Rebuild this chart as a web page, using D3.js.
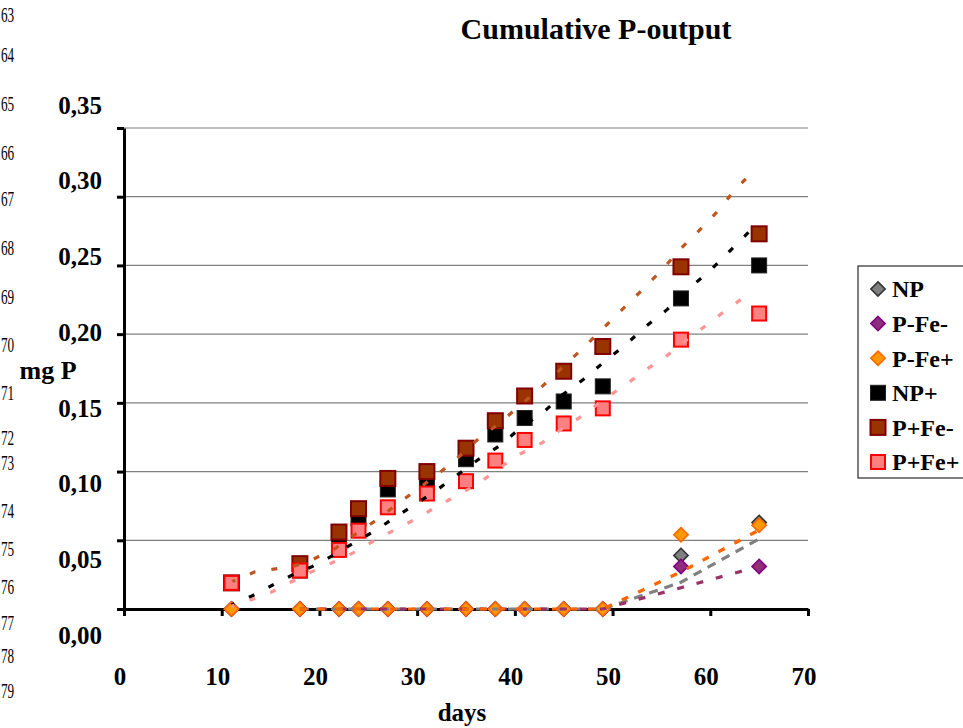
<!DOCTYPE html>
<html>
<head>
<meta charset="utf-8">
<script src="https://cdn.jsdelivr.net/npm/d3@7"></script>
<style>
  html, body { margin: 0; padding: 0; background: #fff; overflow: hidden; }
  svg { display: block; }
  svg text { font-family: "Liberation Serif", "Times New Roman", Times, serif; }
</style>
</head>
<body>
<svg id="chart" width="963" height="728" font-family="Liberation Serif, Times New Roman, serif"></svg>
<script>
// Sampling days
const days = [11, 18, 22, 24, 27, 31, 35, 38, 41, 45, 49, 57, 65];

// Cumulative P output (mg P) per treatment
const npValues        = [0, 0, 0, 0, 0, 0, 0, 0, 0, 0, 0, 0.039, 0.063];
const pFeMinusValues  = [0, 0, 0, 0, 0, 0, 0, 0, 0, 0, 0, 0.031, 0.031];
const pFePlusValues   = [0, 0, 0, 0, 0, 0, 0, 0, 0, 0, 0, 0.054, 0.061];
const npPlusValues    = [0.019, 0.028, 0.047, 0.066, 0.087, 0.092, 0.109, 0.127, 0.139, 0.151, 0.162, 0.226, 0.250];
const pPlusFeMinusVal = [0.019, 0.033, 0.056, 0.073, 0.095, 0.100, 0.117, 0.137, 0.155, 0.173, 0.191, 0.249, 0.273];
const pPlusFePlusVal  = [0.019, 0.028, 0.043, 0.057, 0.074, 0.084, 0.093, 0.108, 0.123, 0.135, 0.146, 0.196, 0.215];

// Fitted trend curves for the "+" treatments
const trendNpPlusDays = [11, 13.1, 15.1, 17.3, 19.3, 21.4, 23.5, 25.7, 27.8, 30, 32.1, 34.2, 36.3, 38.5, 40.6, 42.9, 44.9, 47, 49, 51.3, 53.3, 55.6, 57.6, 59.8, 61.8, 63.9];
const trendNpPlusVals = [0.003, 0.0095, 0.017, 0.025, 0.031, 0.039, 0.048, 0.057, 0.067, 0.077, 0.087, 0.098, 0.109, 0.119, 0.132, 0.143, 0.156, 0.167, 0.179, 0.192, 0.205, 0.218, 0.232, 0.245, 0.259, 0.274];
const trendPFeMinusDays = [11.1, 13.4, 15.3, 17.3, 19.3, 21.6, 23.6, 25.9, 27.9, 30, 32.1, 34.3, 36.3, 38.4, 40.5, 42.8, 44.9, 47, 49, 51, 53, 55.1, 56.8, 58.8, 60.7, 62.4, 64.3];
const trendPFeMinusVals = [0.020, 0.027, 0.029, 0.031, 0.036, 0.044, 0.054, 0.065, 0.076, 0.087, 0.098, 0.111, 0.124, 0.135, 0.148, 0.162, 0.176, 0.190, 0.204, 0.218, 0.232, 0.247, 0.261, 0.275, 0.289, 0.304, 0.318];
const trendPFePlusDays = [11, 13.1, 15, 17.2, 19.2, 21.4, 23.5, 25.7, 27.8, 30, 32.1, 34.2, 36.4, 38.5, 40.6, 42.8, 44.8, 47, 49, 51.3, 53.4, 55.5, 57.6, 59.7, 61.7, 63.9];
const trendPFePlusVals = [0.002, 0.007, 0.012, 0.020, 0.027, 0.034, 0.041, 0.050, 0.058, 0.066, 0.075, 0.083, 0.092, 0.103, 0.113, 0.121, 0.131, 0.141, 0.152, 0.163, 0.174, 0.184, 0.196, 0.207, 0.218, 0.229];

// Axis ticks and labels
const yTicks = [0, 0.05, 0.10, 0.15, 0.20, 0.25, 0.30, 0.35];
const yTickLabels = ["0,00", "0,05", "0,10", "0,15", "0,20", "0,25", "0,30", "0,35"];
const xTicks = [0, 10, 20, 30, 40, 50, 60, 70];

// Page line numbers in the left margin
const lineNumbers = [63, 64, 65, 66, 67, 68, 69, 70, 71, 72, 73, 74, 75, 76, 77, 78, 79];
const lineNumberY = [14, 54, 103, 152, 198, 247, 296, 344, 392, 437, 462, 510, 548, 586, 622, 655, 690];

const series = [
  { name: "NP",     values: npValues,        shape: "diamond", fill: "#808080", stroke: "#333333", trend: "ma", trendColor: "#808080", dash: "9,7" },
  { name: "P-Fe-",  values: pFeMinusValues,  shape: "diamond", fill: "#8e2c7e", stroke: "#800080", trend: "ma", trendColor: "#993366", dash: "7,13" },
  { name: "P-Fe+",  values: pFePlusValues,   shape: "diamond", fill: "#ff9900", stroke: "#ff6600", trend: "ma", trendColor: "#ff6600", dash: "7,11" },
  { name: "NP+",    values: npPlusValues,    shape: "square",  fill: "#000000", stroke: "#222222", trendDays: trendNpPlusDays, trendVals: trendNpPlusVals, trendColor: "#000000" },
  { name: "P+Fe-",  values: pPlusFeMinusVal, shape: "square",  fill: "#993300", stroke: "#800000", trendDays: trendPFeMinusDays, trendVals: trendPFeMinusVals, trendColor: "#c0561f" },
  { name: "P+Fe+",  values: pPlusFePlusVal,  shape: "square",  fill: "#ff8080", stroke: "#ff0000", trendDays: trendPFePlusDays, trendVals: trendPFePlusVals, trendColor: "#ff9494" }
];

const svg = d3.select("#chart");
const x = d3.scaleLinear().domain([0, 70]).range([124, 808]);
const y = d3.scaleLinear().domain([0, 0.35]).range([609, 128]);
const yLabel = d3.scaleLinear().domain([0, 0.35]).range([635, 105]);

// Margin line numbers, set narrow so they sit inside the left edge
svg.append("g").selectAll("text").data(lineNumbers).join("text")
  .attr("transform", (d, i) => `translate(1,${lineNumberY[i]}) scale(0.6,1)`)
  .attr("dy", "0.35em").attr("font-size", 22).attr("fill", "#000")
  .text(d => d);

// Title
svg.append("text").attr("x", 596).attr("y", 39).attr("text-anchor", "middle")
  .attr("font-size", 30).attr("font-weight", "bold").text("Cumulative P-output");

// Gridlines
svg.append("g").selectAll("line").data(yTicks.filter(v => v > 0)).join("line")
  .attr("x1", x(0)).attr("x2", x(70)).attr("y1", d => y(d)).attr("y2", d => y(d))
  .attr("stroke", "#808080").attr("stroke-width", 1.2);

// Axes
const yAxis = svg.append("g").attr("transform", `translate(${x(0)},0)`)
  .call(d3.axisLeft(y).tickValues(yTicks).tickSize(7).tickSizeOuter(0).tickFormat(""));
const xAxis = svg.append("g").attr("transform", `translate(0,${y(0)})`)
  .call(d3.axisBottom(x).tickValues(xTicks).tickSize(7).tickSizeOuter(0).tickFormat(""));
[yAxis, xAxis].forEach(g => {
  g.select(".domain").attr("stroke", "#000").attr("stroke-width", 3);
  g.selectAll(".tick line").attr("stroke", "#000").attr("stroke-width", 3);
});

// Tick labels
svg.append("g").selectAll("text").data(yTicks).join("text")
  .attr("x", 102).attr("y", d => yLabel(d)).attr("dy", "0.35em")
  .attr("text-anchor", "end").attr("font-size", 25).attr("font-weight", "bold")
  .text((d, i) => yTickLabels[i]);
svg.append("g").selectAll("text").data(xTicks).join("text")
  .attr("x", d => x(d) - 4).attr("y", 685)
  .attr("text-anchor", "middle").attr("font-size", 25).attr("font-weight", "bold")
  .text(d => d);

// Axis titles
svg.append("text").attr("x", 48).attr("y", 379).attr("text-anchor", "middle")
  .attr("font-size", 26).attr("font-weight", "bold").text("mg P");
svg.append("text").attr("x", 462).attr("y", 721).attr("text-anchor", "middle")
  .attr("font-size", 25).attr("font-weight", "bold").text("days");

// Marker shapes
const diamond = d3.symbol().type(d3.symbolDiamond2).size(130);
function drawMarker(sel, s) {
  if (s.shape === "diamond") {
    sel.append("path").attr("d", diamond())
      .attr("fill", s.fill).attr("stroke", s.stroke).attr("stroke-width", 1.6);
  } else {
    const inset = s.name === "P+Fe+" ? 7 : 7.5;
    sel.append("rect").attr("x", -inset).attr("y", -inset).attr("width", inset * 2).attr("height", inset * 2)
      .attr("fill", s.fill).attr("stroke", s.stroke).attr("stroke-width", s.name === "NP+" ? 1 : 2);
  }
}

// Data markers
const markerLayer = svg.append("g");
series.forEach(s => {
  s.values.forEach((v, i) => {
    const g = markerLayer.append("g").attr("transform", `translate(${x(days[i])},${y(v)})`);
    drawMarker(g, s);
  });
});

// Trend lines
const line = d3.line().x(d => x(d[0])).y(d => y(d[1]));
const trendLayer = svg.append("g").attr("fill", "none");
series.forEach(s => {
  let pts;
  if (s.trend === "ma") {
    // two-period moving average of the series
    pts = d3.range(1, days.length).map(i => [days[i], (s.values[i] + s.values[i - 1]) / 2]);
    trendLayer.append("path").attr("d", line(pts))
      .attr("stroke", s.trendColor).attr("stroke-width", 3.2).attr("stroke-dasharray", s.dash);
  } else {
    pts = s.trendDays.map((d, i) => [d, s.trendVals[i]]);
    trendLayer.append("path").attr("d", line(pts))
      .attr("stroke", s.trendColor).attr("stroke-width", 3.2).attr("stroke-dasharray", "6,16")
      .attr("stroke-dashoffset", 3);
  }
});

// Legend
const legend = svg.append("g");
legend.append("rect").attr("x", 858).attr("y", 266).attr("width", 120).attr("height", 212)
  .attr("fill", "#fff").attr("stroke", "#000").attr("stroke-width", 1);
series.forEach((s, i) => {
  const cy = 289 + i * 34.6;
  const g = legend.append("g").attr("transform", `translate(878,${cy})`);
  drawMarker(g, s);
  legend.append("text").attr("x", 892).attr("y", cy).attr("dy", "0.35em")
    .attr("font-size", 24).attr("font-weight", "bold").text(s.name);
});
</script>
</body>
</html>
